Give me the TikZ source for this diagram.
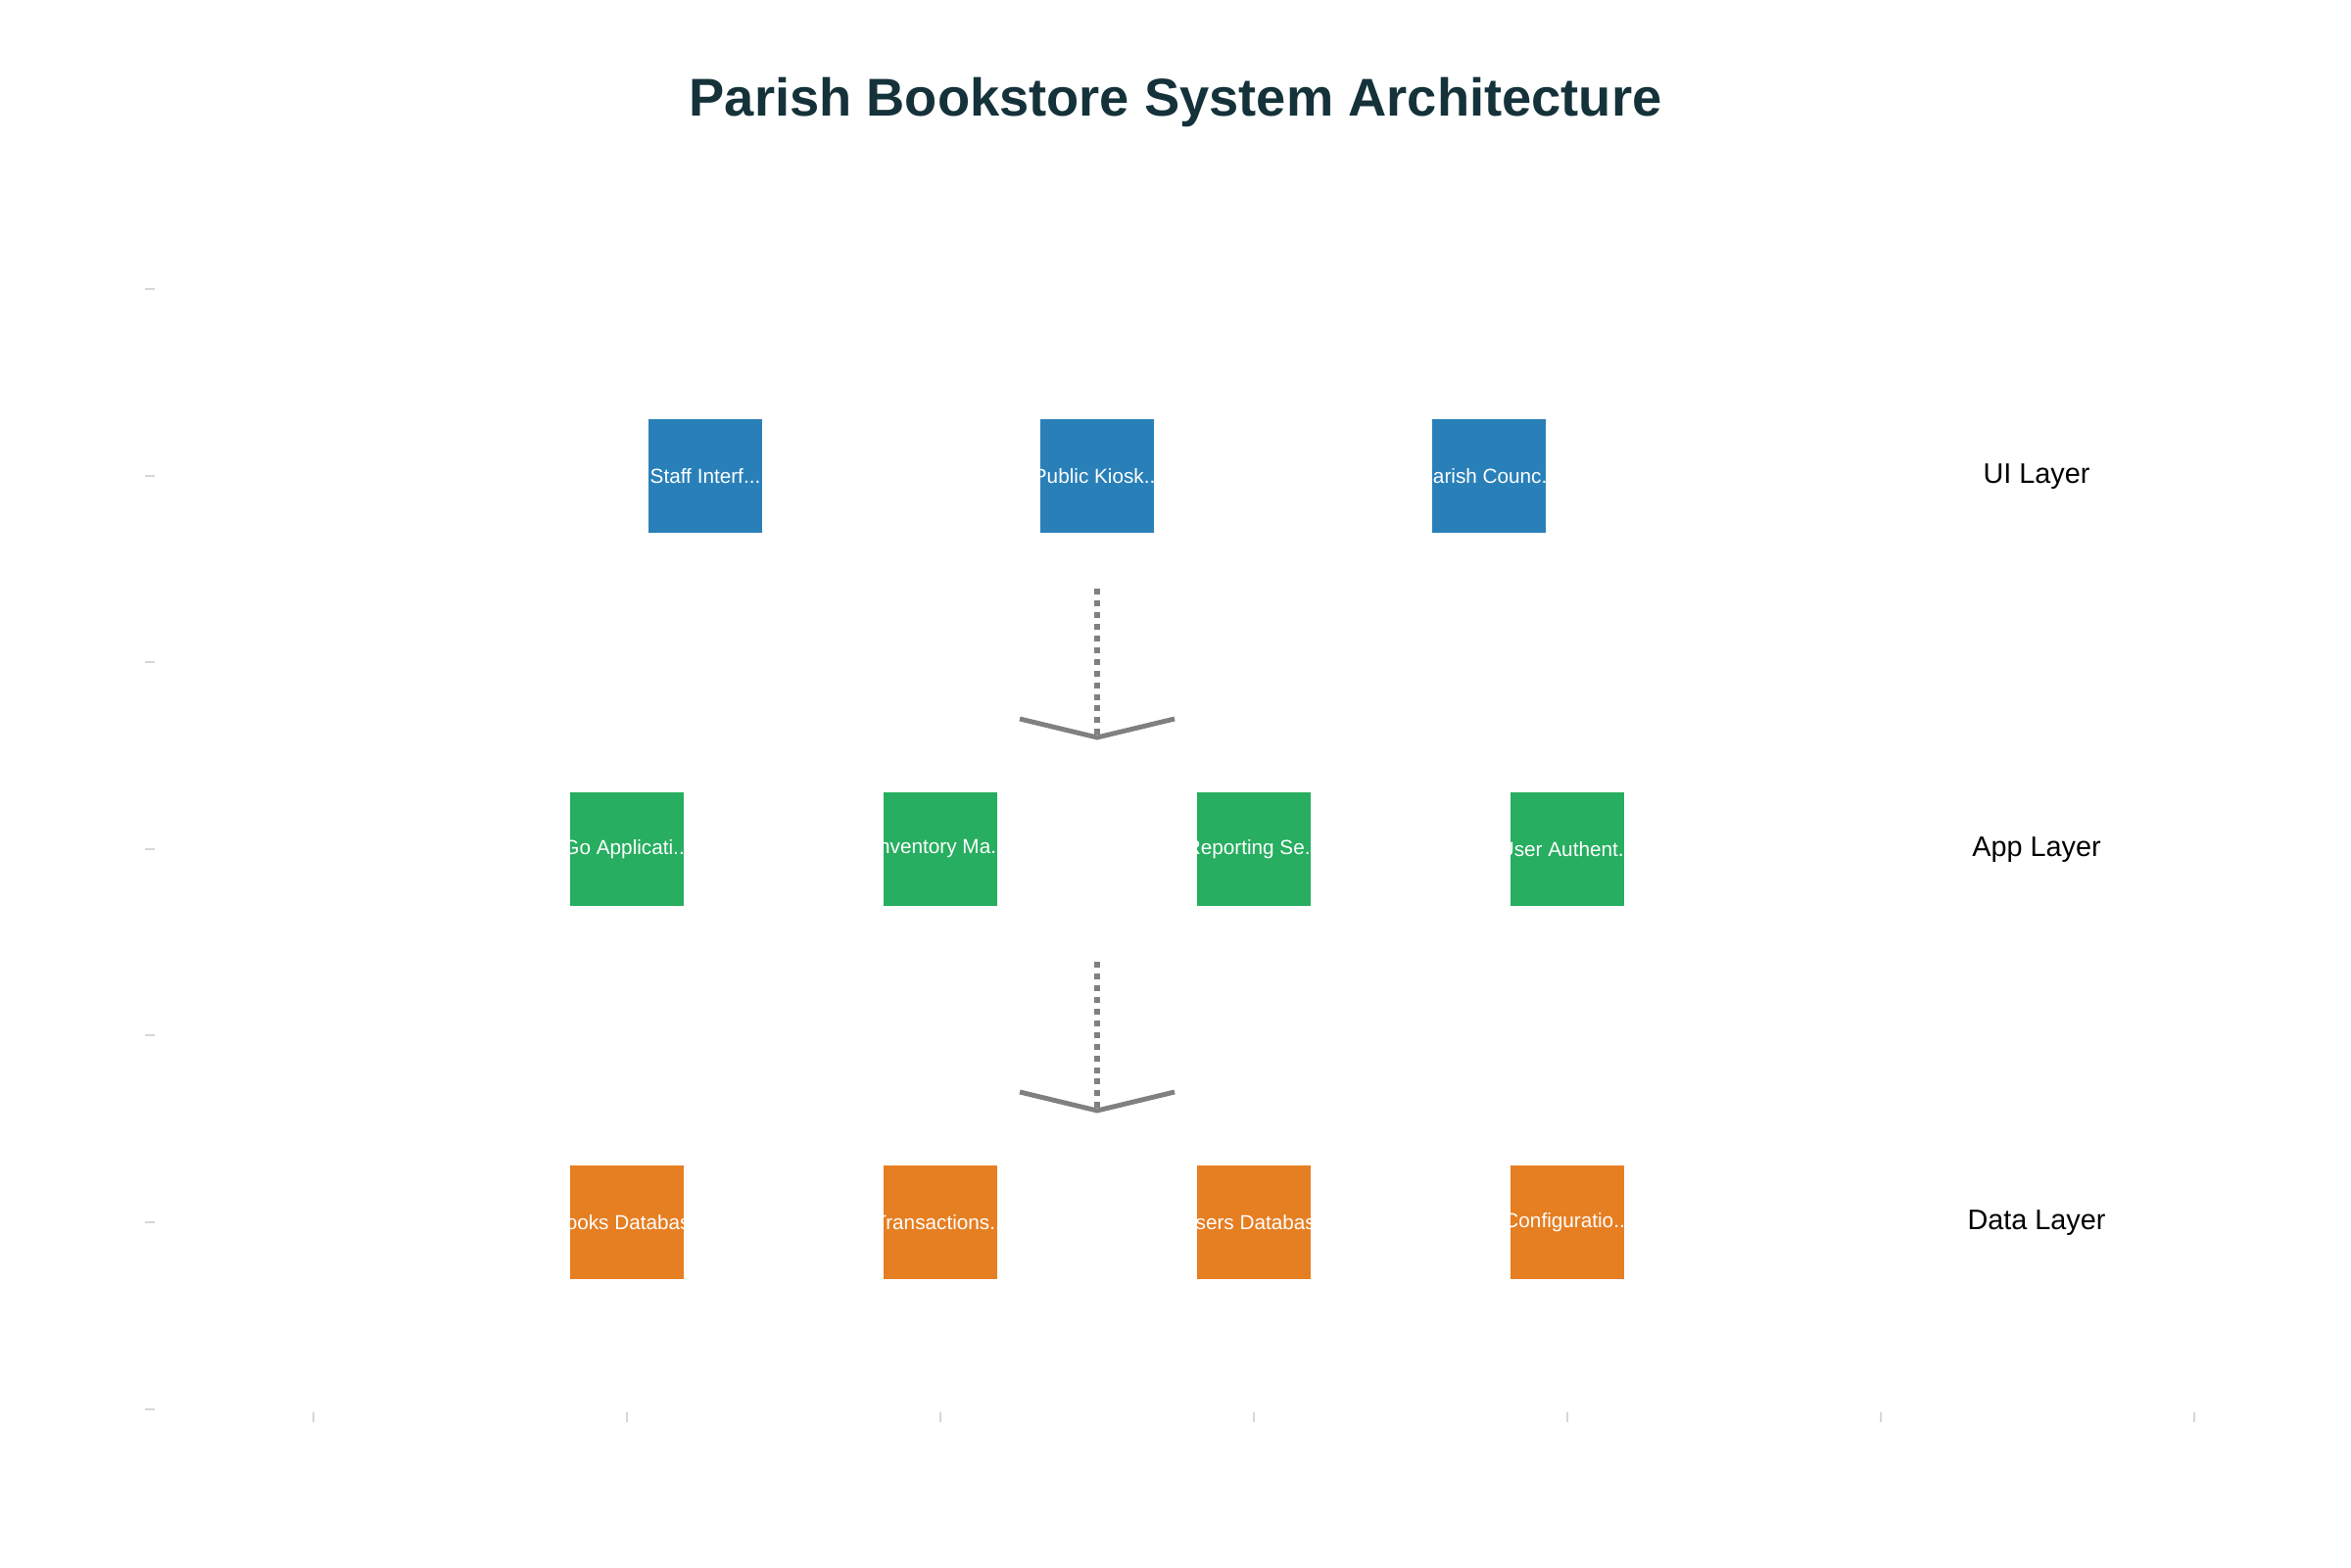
\documentclass[tikz,border=0pt]{standalone}
\usepackage{fontspec}
\setmainfont{Liberation Sans}
\usetikzlibrary{positioning}
\definecolor{uiblue}{HTML}{2980B9}
\definecolor{appgreen}{HTML}{27AE60}
\definecolor{dataorange}{HTML}{E67E22}
\definecolor{titleteal}{HTML}{15323A}
\definecolor{flowgray}{HTML}{808080}
\definecolor{tickgray}{HTML}{DAD5D2}
\tikzstyle{every picture}=[node distance=4cm]
\tikzstyle{tier}=[minimum width=1.16cm, minimum height=1.16cm, inner sep=0pt]
\tikzstyle{tiertext}=[text=white, inner sep=0pt, font=\fontsize{5.9}{7}\selectfont]
\tikzset{named/.style={path picture={\node[tiertext] at (path picture bounding box.center) {#1};}}}
\tikzstyle{flow}=[draw=flowgray, line width=1.65pt, dash pattern=on 1.7pt off 1.7pt]
\tikzstyle{flowhead}=[draw=flowgray, line width=1.4pt]
\tikzstyle{axistick}=[draw=tickgray, line width=0.4pt]
\tikzstyle{layer}=[anchor=base, inner sep=0pt, font=\fontsize{8.2}{10}\selectfont]

\begin{document}
\begin{tikzpicture}
	\fill[white] (0,0) rectangle (24,16);
	\node[anchor=base, text=titleteal, font=\fontsize{15.45}{18}\selectfont\bfseries] (title) at (12,14.81) {Parish Bookstore System Architecture};
	% faint axis ticks
	\foreach \y in {1.61,3.52,5.43,7.33,9.24,11.14,13.05}
		\draw[axistick] (1.48,\y) -- (1.58,\y);
	\foreach \x in {3.2,6.4,...,22.4}
		\draw[axistick] (\x,1.48) -- (\x,1.58);
	% UI layer
	\node[tier, fill=uiblue, named={Staff Interf...}] (staffui) at (7.20,11.14) {};
	\node[tier, fill=uiblue, named={Public Kiosk...}] (kioskui) [right of=staffui] {};
	\node[tier, fill=uiblue, named={Parish Counc...}] (councilui) [right of=kioskui] {};
	% app layer
	\begin{scope}[node distance=3.2cm]
	\node[tier, fill=appgreen, named={Go Applicati...}] (goapp) at (6.40,7.33) {};
	\node[tier, fill=appgreen, named={Inventory Ma...}] (invapp) [right of=goapp] {};
	\node[tier, fill=appgreen, named={Reporting Se...}] (repapp) [right of=invapp] {};
	\node[tier, fill=appgreen, named={User Authent...}] (authapp) [right of=repapp] {};
	% data layer
	\node[tier, fill=dataorange, named={Books Database}] (booksdb) [node distance=3.81cm, below of=goapp] {};
	\node[tier, fill=dataorange, named={Transactions...}] (transdb) [right of=booksdb] {};
	\node[tier, fill=dataorange, named={Users Database}] (usersdb) [right of=transdb] {};
	\node[tier, fill=dataorange, named={Configuratio...}] (configdb) [right of=usersdb] {};
	\end{scope}
	\node[layer] (uilayer) at (20.79,11.06) {UI Layer};
	\node[layer] (applayer) at (20.79,7.25) {App Layer};
	\node[layer] (datalayer) at (20.79,3.44) {Data Layer};
	% flows between layers
	\coordinate (flowAtop) at (11.20,9.99);
	\coordinate (flowAtip) at (11.20,8.47);
	\coordinate (flowBtop) at (11.20,6.18);
	\coordinate (flowBtip) at (11.20,4.66);
	\draw[flow] (flowAtop) -- (flowAtip);
	\draw[flowhead] (flowAtip) ++(-0.79,0.19) -- (flowAtip) -- ++(0.79,0.19);
	\draw[flow] (flowBtop) -- (flowBtip);
	\draw[flowhead] (flowBtip) ++(-0.79,0.19) -- (flowBtip) -- ++(0.79,0.19);
\end{tikzpicture}
\end{document}
